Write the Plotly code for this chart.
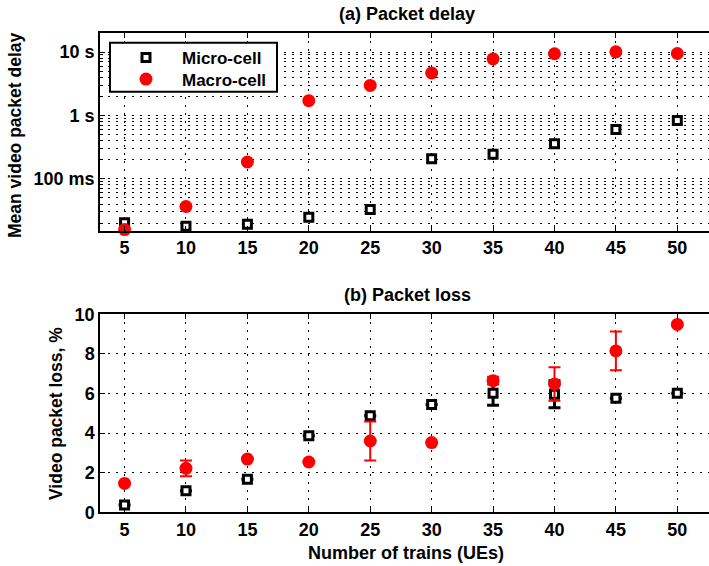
import plotly.graph_objects as go

trains = [5, 10, 15, 20, 25, 30, 35, 40, 45, 50]

# (a) mean video packet delay, seconds
delay_micro = [0.0202, 0.0179, 0.0192, 0.0248, 0.0327, 0.207, 0.245, 0.357, 0.60, 0.83]
delay_macro = [0.0158, 0.0365, 0.184, 1.71, 2.98, 4.68, 7.8, 9.4, 10.1, 9.5]

# (b) video packet loss, %
loss_micro = [0.37, 1.09, 1.67, 3.87, 4.88, 5.45, 6.01, 5.96, 5.76, 6.01]
loss_micro_err = [None, None, None, None, None, None, 0.6, 0.68, None, None]
loss_macro = [1.46, 2.22, 2.69, 2.54, 3.6, 3.52, 6.65, 6.48, 8.15, 9.49]
loss_macro_err = [None, 0.4, None, None, 0.98, None, 0.2, 0.85, 0.98, None]

delay_tickvals = [0.1, 1, 10]
delay_ticktext = ["100 ms", "1 s", "10 s"]
x_ticks = trains
loss_ticks = [0, 2, 4, 6, 8, 10]

W, H = 709, 566
FONT = "Liberation Sans, Arial, sans-serif"
RED = "#ff0000"

def px_y(p):
    return 1 - p / H

fig = go.Figure()

sq = dict(symbol="square", size=8, color="white", line=dict(color="black", width=3))
circ = dict(symbol="circle", size=13, color=RED, line=dict(width=0))

fig.add_trace(go.Scatter(x=trains, y=delay_micro, mode="markers", marker=sq,
                         name="Micro-cell", legend="legend",
                         xaxis="x", yaxis="y", cliponaxis=False))
fig.add_trace(go.Scatter(x=trains, y=delay_macro, mode="markers", marker=circ,
                         name="Macro-cell", legend="legend2",
                         xaxis="x", yaxis="y", cliponaxis=False))
fig.add_trace(go.Scatter(x=trains, y=loss_micro, mode="markers", marker=sq,
                         error_y=dict(type="data", array=loss_micro_err, color="black",
                                      thickness=3, width=6),
                         showlegend=False, xaxis="x2", yaxis="y2", cliponaxis=False))
fig.add_trace(go.Scatter(x=trains, y=loss_macro, mode="markers", marker=circ,
                         error_y=dict(type="data", array=loss_macro_err, color=RED,
                                      thickness=2, width=6),
                         showlegend=False, xaxis="x2", yaxis="y2", cliponaxis=False))

DASH = "1.5px,6.5px"
tickfont = dict(family=FONT, size=18, color="black", weight="bold")
legfont = dict(family=FONT, size=17, color="black", weight="bold")

xcommon = dict(range=[3, 52.58], tickvals=x_ticks, showgrid=True, gridcolor="black",
               griddash=DASH, gridwidth=1, showline=True, linecolor="black", linewidth=1.5,
               mirror="ticks", ticks="inside", ticklen=5, tickcolor="black",
               tickfont=tickfont, zeroline=False, domain=[100 / W, 1], automargin=False)

legcommon = dict(x=110 / W, xanchor="left", yanchor="middle", bgcolor="rgba(0,0,0,0)",
                 borderwidth=0, font=legfont, itemwidth=62)

fig.update_layout(
    width=W, height=H, margin=dict(l=0, r=0, t=0, b=0, autoexpand=False),
    paper_bgcolor="white", plot_bgcolor="white",
    font=dict(family=FONT, color="black"),
    xaxis=dict(**xcommon, anchor="y"),
    yaxis=dict(type="log", range=[-1.824, 1.301], tickmode="array",
               tickvals=delay_tickvals, ticktext=delay_ticktext,
               showgrid=True, gridcolor="black", griddash=DASH, gridwidth=1,
               showline=True, linecolor="black", linewidth=1.5, ticks="inside",
               ticklen=5, tickcolor="black", tickfont=tickfont, zeroline=False,
               minor=dict(showgrid=True, gridcolor="black", griddash=DASH, gridwidth=1,
                          ticks="inside", ticklen=3, tickcolor="black", dtick="D1"),
               domain=[px_y(231), px_y(33)], anchor="x", automargin=False),
    xaxis2=dict(**xcommon, anchor="y2"),
    yaxis2=dict(range=[0, 10], tickvals=loss_ticks, showgrid=True, gridcolor="black",
                griddash=DASH, gridwidth=1, showline=True, linecolor="black",
                linewidth=1.5, ticks="inside", ticklen=5, tickcolor="black",
                tickfont=tickfont, zeroline=False, automargin=False,
                domain=[px_y(512.3), px_y(314.3)], anchor="x2"),
    legend=dict(**legcommon, y=px_y(58)),
    legend2=dict(**legcommon, y=px_y(79.5)),
    showlegend=True,
)

# legend frame
fig.add_shape(type="rect", xref="paper", yref="paper", layer="above",
              x0=110 / W, x1=277 / W, y0=px_y(91.7), y1=px_y(42.7),
              fillcolor="white", line=dict(color="black", width=2))

def ann(text, x, y, angle=0, size=18):
    fig.add_annotation(text=text, x=x / W, y=px_y(y), xref="paper", yref="paper",
                       showarrow=False, textangle=angle, xanchor="center", yanchor="middle",
                       font=dict(family=FONT, size=size, color="black", weight="bold"))

ann("(a) Packet delay", 407, 14)
ann("(b) Packet loss", 407, 295)
ann("Number of trains (UEs)", 406, 553)
ann("Mean video packet delay", 15, 136, angle=-90, size=17.5)
ann("Video packet loss, %", 56, 414, angle=-90, size=17.5)

fig.write_html("out.html")
